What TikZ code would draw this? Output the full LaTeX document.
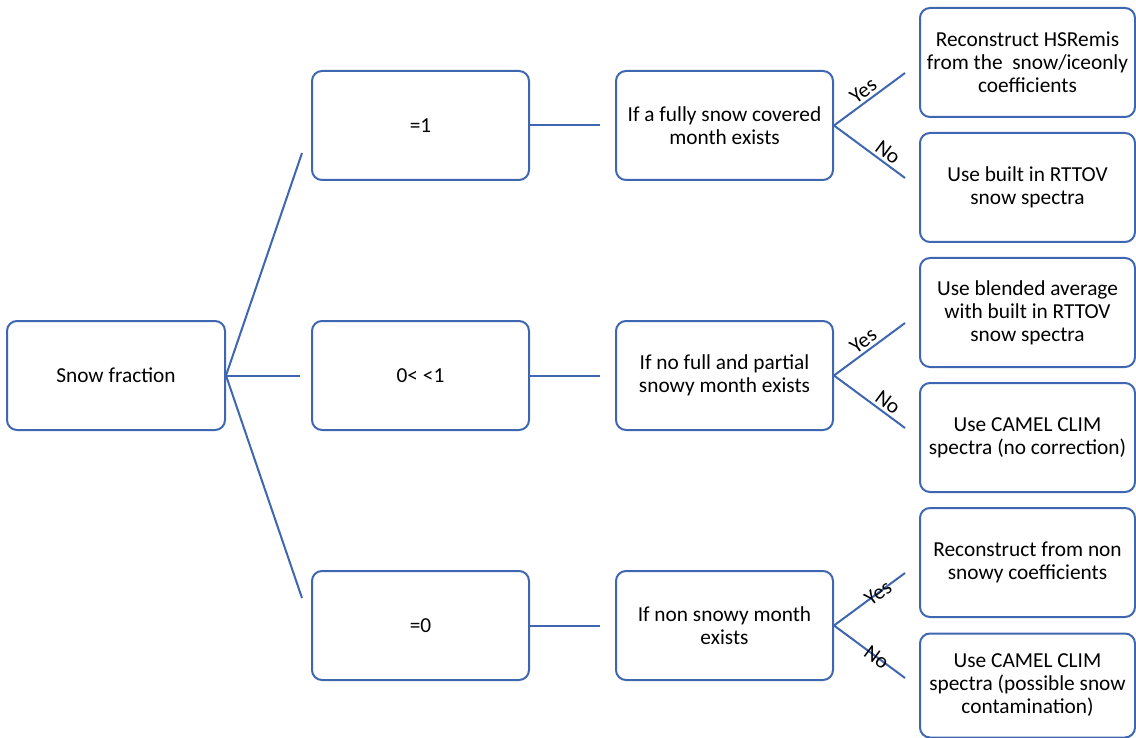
\documentclass[tikz,border=0pt]{standalone}
\usepackage{fontspec}
\setmainfont{Carlito}
\definecolor{boxblue}{HTML}{3F66B0}
\begin{document}
\begin{tikzpicture}[x=0.75pt,y=-0.75pt,
  box/.style={draw=boxblue, line width=1.5pt, rounded corners=7.5pt, fill=white,
    align=center, inner sep=0pt, font=\fontsize{16}{17.25}\selectfont},
  midbox/.style={box, minimum width=162.75pt, minimum height=81.75pt},
  resbox/.style={box, minimum width=161.25pt, minimum height=81.75pt},
  link/.style={draw=boxblue, line width=1.5pt},
  yn/.style={font=\fontsize{16}{17.25}\selectfont, sloped, inner sep=2pt}]
\useasboundingbox (0,0) rectangle (1136,738);

\node[box, minimum width=163.5pt, minimum height=81.75pt] (sf) at (116,375.5) {Snow fraction};

\node[midbox] (m1) at (420.5,125.5) {=1};
\node[midbox] (m2) at (420.5,375.5) {0< <1};
\node[midbox] (m3) at (420.5,625.5) {=0};

\node[midbox] (d1) at (724.5,125.5) {If a fully snow covered\\month exists};
\node[midbox] (d2) at (724.5,375.5) {If no full and partial\\snowy month exists};
\node[midbox] (d3) at (724.5,625.5) {If non snowy month\\exists};

\node[resbox] (r1) at (1027.5,62.5) {Reconstruct HSRemis\\from the\ \ snow/iceonly\\coefficients};
\node[resbox] (r2) at (1027.5,187.5) {Use built in RTTOV\\snow spectra};
\node[resbox] (r3) at (1027.5,312.5) {Use blended average\\with built in RTTOV\\snow spectra};
\node[resbox] (r4) at (1027.5,437.5) {Use CAMEL CLIM\\spectra (no correction)};
\node[resbox] (r5) at (1027.5,562.5) {Reconstruct from non\\snowy coefficients};
\node[resbox, minimum height=78pt] (r6) at (1027.5,685.5) {Use CAMEL CLIM\\spectra (possible snow\\contamination)};

\coordinate (a1) at (302,153);
\coordinate (a2) at (300,375.5);
\coordinate (a3) at (302,598);
\draw[link] (sf.east) -- (a1);
\draw[link] (sf.east) -- (a2);
\draw[link] (sf.east) -- (a3);

\coordinate (b1) at (600,125.5);
\coordinate (b2) at (600,375.5);
\coordinate (b3) at (600,625.5);
\draw[link] (m1.east) -- (b1);
\draw[link] (m2.east) -- (b2);
\draw[link] (m3.east) -- (b3);

\coordinate (y1) at (905,73);
\coordinate (n1) at (905,178);
\coordinate (y2) at (905,323);
\coordinate (n2) at (905,428);
\coordinate (y3) at (905,573);
\coordinate (n3) at (905,678);
\draw[link] (d1.east) -- node[yn, above, pos=0.5] {Yes} (y1);
\draw[link] (d1.east) -- node[yn, above, pos=0.67] {No} (n1);
\draw[link] (d2.east) -- node[yn, above, pos=0.5] {Yes} (y2);
\draw[link] (d2.east) -- node[yn, above, pos=0.67] {No} (n2);
\draw[link] (d3.east) -- node[yn, pos=0.62] {Yes} (y3);
\draw[link] (d3.east) -- node[yn, pos=0.6] {No} (n3);
\end{tikzpicture}
\end{document}
